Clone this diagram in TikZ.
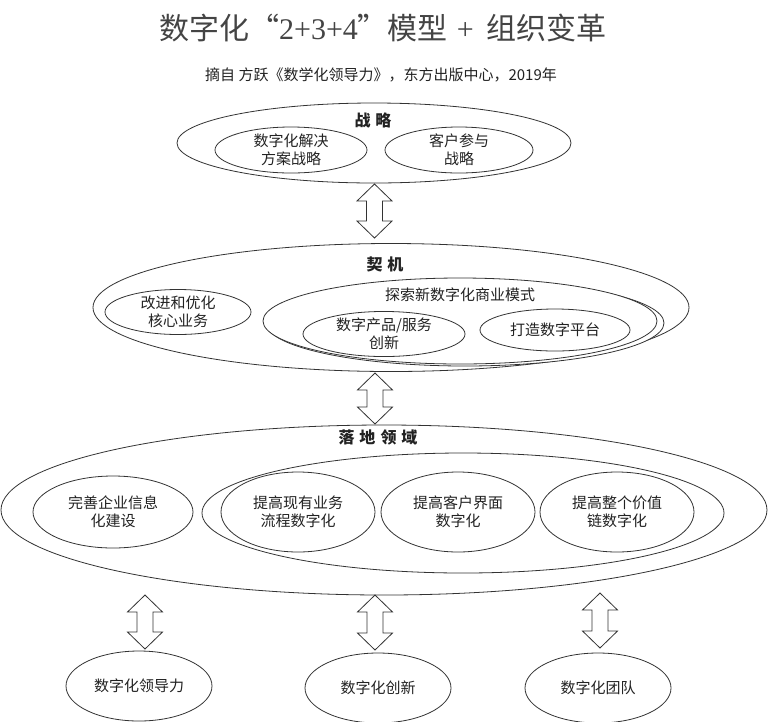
\documentclass[tikz,border=0pt]{standalone}
\usepackage{fontspec}
\setmainfont{Noto Sans CJK SC}
\newfontfamily\serifnum{Liberation Serif}
\usetikzlibrary{shapes.geometric,calc}
\definecolor{linec}{HTML}{333333}
\definecolor{txtc}{HTML}{222222}
\definecolor{titc}{HTML}{444444}
\tikzset{
  ell/.style={ellipse, draw=linec, line width=0.8pt, fill=white, inner sep=0pt, align=center,
    font=\fontsize{15}{18}\selectfont, text=txtc},
  lbl/.style={font=\fontsize{16}{19}\selectfont\bfseries, text=txtc, inner sep=0pt},
  plain/.style={font=\fontsize{15}{18}\selectfont, text=txtc, inner sep=0pt},
  dbl/.style={draw=linec, line width=0.8pt, fill=white, line join=miter},
}
\newcommand\dblarr[2]{\draw[dbl] (#1) -- ++(17.5,17) -- ++(-9.5,0) -- ($(#2)+(8,-17)$) -- ++(9.5,0) -- (#2) -- ++(-17.5,-17) -- ++(9.5,0) -- ($(#1)+(-8,17)$) -- ++(-9.5,0) -- cycle;}
\begin{document}
\begin{tikzpicture}[x=1pt,y=-1pt]
\useasboundingbox[fill=white] (0,0) rectangle (768,721);
% title
\node[font=\fontsize{30}{33}\selectfont, text=titc, inner sep=0pt] (title) at (383,28) {数字化“{\serifnum 2+3+4}”模型\hspace{9pt}{\serifnum +}\hspace{13pt}组织变革};
\node[plain] (sub) at (381,75) {摘自 方跃《数学化领导力》，东方出版中心，2019年};
% strategy
\node[ell, minimum width=394pt, minimum height=80pt] (strat) at (374,143) {};
\node[lbl] (stratl) at (373,120) {战\hspace{5pt}略};
\node[ell, minimum width=152pt, minimum height=46pt] (s1) at (291,150) {数字化解决\\方案战略};
\node[ell, minimum width=148pt, minimum height=46pt] (s2) at (459,150) {客户参与\\战略};
% opportunity
\node[ell, minimum width=596pt, minimum height=128pt] (opp) at (391,307.5) {};
\node[lbl] (oppl) at (385,264) {契\hspace{5pt}机};
\node[ell, minimum width=146pt, minimum height=44pt] (o1) at (178,312) {改进和优化\\核心业务};
\node[ell, minimum width=398pt, minimum height=86pt] (expsh) at (465,323) {};
\node[ell, minimum width=394pt, minimum height=86pt] (exp) at (460,321) {};
\node[plain] (expl) at (460,295) {探索新数字化商业模式};
\node[ell, minimum width=162pt, minimum height=44pt] (o2) at (384,334) {数字产品/服务\\创新};
\node[ell, minimum width=150pt, minimum height=42pt] (o3) at (555,330) {打造数字平台};
% landing
\node[ell, minimum width=766pt, minimum height=170pt] (land) at (384,510) {};
\node[lbl] (landl) at (378,437) {落\hspace{5pt}地\hspace{5pt}领\hspace{5pt}域};
\node[ell, minimum width=160pt, minimum height=72pt] (l0) at (113,512) {完善企业信息\\化建设};
\node[ell, minimum width=522pt, minimum height=120pt] (lin) at (463,513) {};
\node[ell, minimum width=154pt, minimum height=80pt] (l1) at (298,512) {提高现有业务\\流程数字化};
\node[ell, minimum width=154pt, minimum height=80pt] (l2) at (458,512) {提高客户界面\\数字化};
\node[ell, minimum width=154pt, minimum height=80pt] (l3) at (617,512) {提高整个价值\\链数字化};
% bottom
\node[ell, minimum width=146pt, minimum height=70pt] (b1) at (139,686) {数字化领导力};
\node[ell, minimum width=146pt, minimum height=70pt] (b2) at (378,688) {数字化创新};
\node[ell, minimum width=146pt, minimum height=70pt] (b3) at (598,688) {数字化团队};
% arrows
\coordinate (a1t) at (374.5,184); \coordinate (a1b) at (374.5,238);
\coordinate (a2t) at (375,373);   \coordinate (a2b) at (375,424);
\coordinate (a3t) at (145,595);   \coordinate (a3b) at (145,649);
\coordinate (a4t) at (375,595);   \coordinate (a4b) at (375,650);
\coordinate (a5t) at (600,593);   \coordinate (a5b) at (600,648);
\dblarr{a1t}{a1b}
\dblarr{a2t}{a2b}
\dblarr{a3t}{a3b}
\dblarr{a4t}{a4b}
\dblarr{a5t}{a5b}
\end{tikzpicture}
\end{document}
